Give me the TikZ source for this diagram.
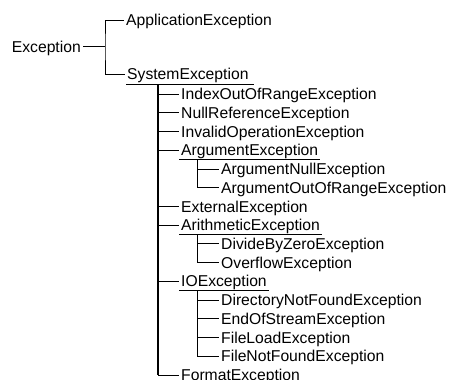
\documentclass[tikz,border=0pt]{standalone}
\usepackage{fontspec}
\setmainfont{Liberation Sans}

\begin{document}
\begin{tikzpicture}[
  x=1pt, y=-1pt,
  font=\fontsize{15.7pt}{18pt}\selectfont,
  cls/.style={anchor=west, inner xsep=2pt, inner ysep=0pt, text height=11.2pt, text depth=0pt},
  link/.style={line width=0.8pt},
  trunk/.style={line width=1.3pt},
  uline/.style={line width=0.8pt}
]
\useasboundingbox (0,0) rectangle (451,380);

% ---------- ROOT ----------
\node[cls, anchor=east] (exc) at (83,46.5) {Exception};
\node[cls] (app) at (124,20) {ApplicationException};
\node[cls] (sys) at (125,74) {SystemException};
\coordinate (fork) at (105,46.5);

\draw[link] (exc.east) -- (fork);
\draw[link] (app.west) -| (fork) |- (sys.west);
\draw[uline] ([xshift=1pt,yshift=-4.5pt]sys.base west) -- ([xshift=3pt,yshift=-4.5pt]sys.base east);

% ---------- SYSTEM EXCEPTION ----------
\node[cls] (idx) at (179,94.0) {IndexOutOfRangeException};
\node[cls] (nullref) at (179,112.7) {NullReferenceException};
\node[cls] (invop) at (179,131.5) {InvalidOperationException};
\node[cls] (arg) at (179,150.2) {ArgumentException};
\node[cls] (argnull) at (219,168.9) {ArgumentNullException};
\node[cls] (argrange) at (219,187.7) {ArgumentOutOfRangeException};
\node[cls] (ext) at (179,206.4) {ExternalException};
\node[cls] (arith) at (179,225.1) {ArithmeticException};
\node[cls] (divzero) at (219,243.8) {DivideByZeroException};
\node[cls] (overflow) at (219,262.6) {OverflowException};
\node[cls] (io) at (179,281.3) {IOException};
\node[cls] (dirnf) at (219,300.0) {DirectoryNotFoundException};
\node[cls] (eos) at (219,318.8) {EndOfStreamException};
\node[cls] (fload) at (219,337.5) {FileLoadException};
\node[cls] (fnf) at (219,356.2) {FileNotFoundException};
\node[cls] (fmt) at (179,375.0) {FormatException};

\coordinate (systop) at (158,84);
\draw[trunk] (systop) -- (systop |- fmt.west);
\foreach \c in {idx,nullref,invop,arg,ext,arith,io,fmt}
  \draw[link] (systop |- \c.west) -- (\c.west);

% underlined parents
\foreach \p in {arg,arith,io}
  \draw[uline] ([yshift=-3.4pt]\p.base west) -- ([yshift=-3.4pt]\p.base east);

% ---------- SUBTREES ----------
\coordinate (argtop) at (197,159);
\coordinate (arithtop) at (197,234);
\coordinate (iotop) at (197,290.5);

\draw[link] (argtop) |- (argrange.west);
\draw[link] (argtop |- argnull.west) -- (argnull.west);

\draw[link] (arithtop) |- (overflow.west);
\draw[link] (arithtop |- divzero.west) -- (divzero.west);

\draw[link] (iotop) |- (fnf.west);
\foreach \c in {dirnf,eos,fload}
  \draw[link] (iotop |- \c.west) -- (\c.west);

\end{tikzpicture}
\end{document}
